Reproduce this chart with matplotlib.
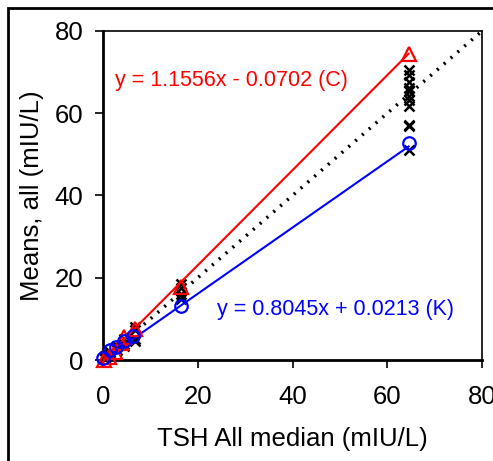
import matplotlib.pyplot as plt
import numpy as np
from matplotlib.patches import Rectangle

plt.rcParams['font.family'] = ['Liberation Sans', 'DejaVu Sans']

# K means (blue circles)
k_x = [0.0, 1.5, 2.8, 4.5, 6.3, 16.5, 64.5]
k_y = [0.6, 2.4, 3.2, 4.6, 5.8, 13.2, 52.7]

# C means (red triangles)
c_x = [0.2, 1.2, 2.5, 3.8, 4.5, 6.8, 16.5, 64.5]
c_y = [0.0, 0.8, 2.0, 4.2, 5.5, 7.6, 17.8, 74.4]

# individual results (black crosses)
ind_x = [0.5, 0.5, 0.5, 1.5, 1.5, 1.5, 3.0, 3.0, 4.5, 4.5, 4.5,
         6.8, 6.8, 6.8, 6.8,
         16.5, 16.5, 16.5, 16.5, 16.5,
         64.5, 64.5, 64.5, 64.5, 64.5, 64.5, 64.5, 64.5, 64.5, 64.5, 64.5]
ind_y = [0.5, 1.0, 0.2, 1.5, 2.0, 1.0, 3.5, 2.5, 5.0, 4.0, 3.5,
         8.0, 7.2, 5.0, 4.5,
         18.5, 17.5, 16.0, 15.2, 14.8,
         70.5, 69.3, 67.7, 66.1, 65.3, 64.1, 63.2, 61.8, 57.1, 56.8, 51.1]

c_fit = (1.1556, -0.0702)
k_fit = (0.8045, 0.0213)

fig = plt.figure(figsize=(4.93, 4.61), dpi=100)
ax = fig.add_axes([103/493, 1-360/461, 379/493, 329/461])

# identity line
ident = np.array([0, 80])
ax.plot(ident, ident, color='black', lw=2.5, linestyle=(0, (0.6, 2.0)), zorder=1)

ax.plot(ind_x, ind_y, 'x', color='black', ms=7, mew=1.8, clip_on=False, zorder=2)

fx = np.array([0, max(c_x)])
ax.plot(fx, c_fit[0]*fx + c_fit[1], color='red', lw=1.5, zorder=3)
ax.plot(fx, k_fit[0]*fx + k_fit[1], color='blue', lw=1.5, zorder=3)

ax.plot(c_x, c_y, '^', mfc='none', mec='red', ms=10, mew=1.6, clip_on=False, zorder=4)
ax.plot(k_x, k_y, 'o', mfc='none', mec='blue', ms=9, mew=1.6, clip_on=False, zorder=4)

ax.text(2.5, 68, 'y = 1.1556x - 0.0702 (C)', color='red', fontsize=15.5, va='center')
ax.text(24, 12.2, 'y = 0.8045x + 0.0213 (K)', color='blue', fontsize=15.5, va='center')

ax.set_xlim(0, 80)
ax.set_ylim(0, 80)
ax.set_xticks([0, 20, 40, 60, 80])
ax.set_yticks([0, 20, 40, 60, 80])
ax.tick_params(labelsize=18.5, length=6, width=1.2)
ax.tick_params(axis='x', pad=12)
ax.tick_params(axis='y', pad=8)
ax.set_xlabel('TSH All median (mIU/L)', fontsize=18.5, labelpad=13)
ax.set_ylabel('Means, all (mIU/L)', fontsize=18.5, labelpad=8)
for s in ['left', 'bottom']:
    ax.spines[s].set_linewidth(2)
for s in ['top', 'right']:
    ax.spines[s].set_linewidth(1.2)

fig.patches.append(Rectangle((8/493, -0.1), 1.2, 1 - 8/461 + 0.1, transform=fig.transFigure,
                             fill=False, edgecolor='black', lw=2))

fig.savefig('out.png', dpi=100)
